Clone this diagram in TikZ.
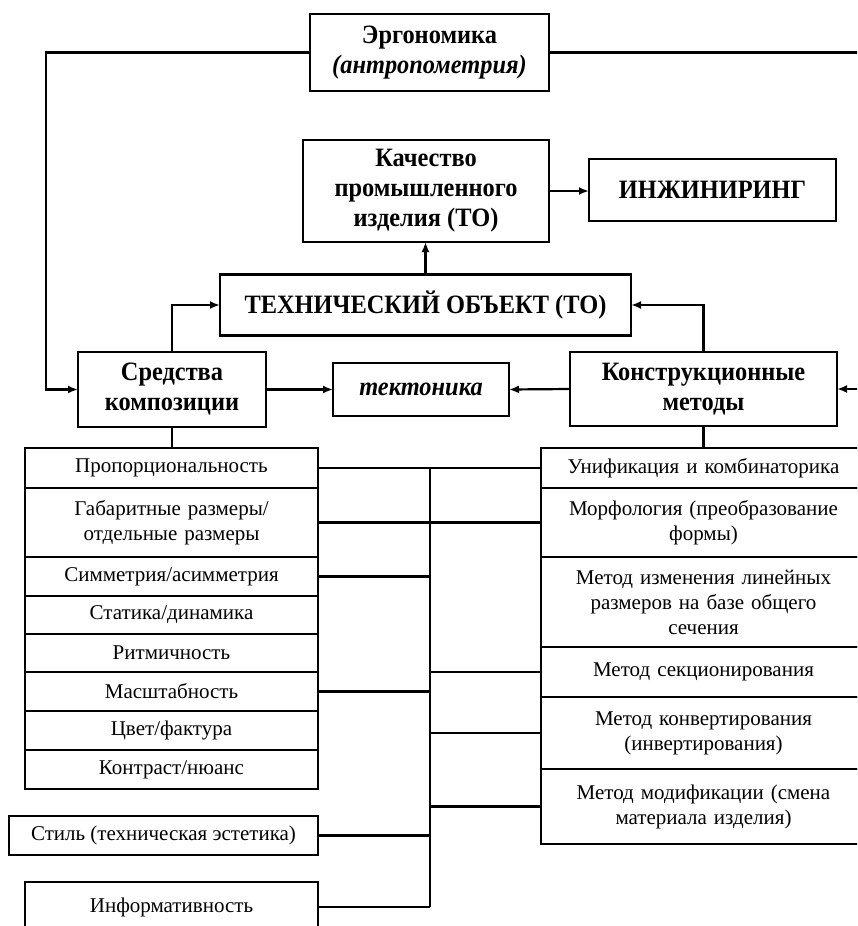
\documentclass[tikz,border=0pt]{standalone}
\usepackage{fontspec}
\setmainfont{Liberation Serif}
\newfontfamily\headfont{Liberation Serif}[FakeStretch=0.92]
\usetikzlibrary{arrows.meta, positioning}

\begin{document}
\begin{tikzpicture}[x=1pt,y=-1pt,
 head node/.style={draw, line width=2.6pt, inner sep=0pt, outer sep=0pt, align=center,
   font=\headfont\bfseries\fontsize{26.5}{30}\selectfont},
 list node/.style={draw, line width=2.6pt, inner sep=0pt, outer sep=0pt, align=center,
   font=\fontsize{21}{25}\selectfont},
 left node/.style={list node, minimum width=293pt, text width=285pt},
 right node/.style={list node, minimum width=325pt, text width=315pt},
 plain line/.style={line width=2.2pt},
 flow line/.style={plain line, -{Latex[length=10pt,width=8pt]}}]
  \clip (0,0) rectangle (857,926);

  \node[head node, minimum width=239pt, minimum height=77pt] (ergo) at (429.5,52.5) {Эргономика\\\textit{(антропометрия)}};
  \node[head node, minimum width=246pt, minimum height=102pt] (qual) at (426,191) {Качество\\промышленного\\изделия (ТО)};
  \node[head node, minimum width=247pt, minimum height=62pt] (eng) at (712.5,190) {ИНЖИНИРИНГ};
  \node[head node, minimum width=411pt, minimum height=61pt] (obj) at (425.5,305) {ТЕХНИЧЕСКИЙ ОБЪЕКТ (ТО)};
  \node[head node, minimum width=188pt, minimum height=75pt] (comp) at (172,389.5) {Средства\\композиции};
  \node[head node, minimum width=176pt, minimum height=53pt] (tect) at (421,389.5) {\textit{тектоника}};
  \node[head node, minimum width=267pt, minimum height=74pt] (cons) at (703.5,389) {Конструкционные\\методы};

  \node[left node, minimum height=40pt, anchor=north] (l1) at (171.5,448) {Пропорциональность};
  \node[left node, minimum height=69pt, below=0pt of l1] (l2) {Габаритные размеры/\\отдельные размеры};
  \node[left node, minimum height=39pt, below=0pt of l2] (l3) {Симметрия/асимметрия};
  \node[left node, minimum height=38pt, below=0pt of l3] (l4) {Статика/динамика};
  \node[left node, minimum height=38pt, below=0pt of l4] (l5) {Ритмичность};
  \node[left node, minimum height=39pt, below=0pt of l5] (l6) {Масштабность};
  \node[left node, minimum height=39pt, below=0pt of l6] (l7) {Цвет/фактура};
  \node[left node, minimum height=39pt, below=0pt of l7] (l8) {Контраст/нюанс};
  \node[list node, minimum width=309pt, minimum height=39pt] (l9) at (163.5,835.5) {Стиль (техническая эстетика)};
  \node[left node, minimum height=50pt, anchor=north] (l10) at (171.5,882) {Информативность};

  \node[right node, minimum height=40pt, anchor=north] (r1) at (703.5,448) {Унификация и комбинаторика};
  \node[right node, minimum height=69pt, below=0pt of r1] (r2) {Морфология (преобразование\\формы)};
  \node[right node, minimum height=90pt, below=0pt of r2] (r3) {Метод изменения линейных\\размеров на базе общего\\сечения};
  \node[right node, minimum height=50pt, below=0pt of r3] (r4) {Метод секционирования};
  \node[right node, minimum height=72pt, below=0pt of r4] (r5) {Метод конвертирования\\(инвертирования)};
  \node[right node, minimum height=75pt, below=0pt of r5] (r6) {Метод модификации (смена\\материала изделия)};

  \coordinate (west rail) at (46,0);
  \coordinate (east rail) at (866,0);
  \coordinate (bus) at (430,0);

  \draw[flow line] (ergo.west) -- (ergo.west -| west rail) |- (comp.west);
  \draw[flow line] (ergo.east) -- (ergo.east -| east rail) |- (cons.east);
  \draw[flow line] (qual.east) -- (qual.east -| eng.west);
  \draw[flow line] (obj.north) -- (obj.north |- qual.south);
  \draw[flow line] (comp.north) |- (obj.west);
  \draw[flow line] (cons.north) |- (obj.east);
  \draw[flow line] (comp.east) -- (tect.west);
  \draw[flow line] (cons.west) -- (tect.east);
  \draw[plain line] (comp.south) -- (comp.south |- l1.north);
  \draw[plain line] (cons.south) -- (cons.south |- r1.north);

  \draw[plain line] (l1.east) -- (r1.west);
  \draw[plain line] (l2.east) -- (r2.west);
  \draw[plain line] (l1.east -| bus) -- (l10.east -| bus);
  \foreach \s in {l3, l6, l9, l10} {
   \draw[plain line] (\s.east) -- (\s.east -| bus);}
  \foreach \t in {r4, r5, r6} {
   \draw[plain line] (\t.west) -- (\t.west -| bus);}
\end{tikzpicture}
\end{document}
